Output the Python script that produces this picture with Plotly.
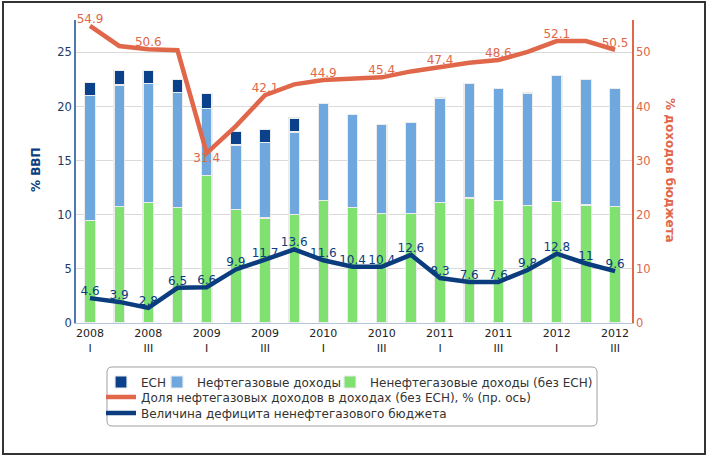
import plotly.graph_objects as go

quarters = ["2008<br>I", "", "2008<br>III", "", "2009<br>I", "", "2009<br>III", "",
            "2010<br>I", "", "2010<br>III", "", "2011<br>I", "", "2011<br>III", "",
            "2012<br>I", "", "2012<br>III"]
non_oil = [9.5, 10.8, 11.1, 10.7, 13.6, 10.5, 9.7, 10.05, 11.3, 10.7, 10.15, 10.15,
           11.1, 11.55, 11.3, 10.86, 11.2, 10.9, 10.8]
oil = [11.5, 11.2, 11.0, 10.6, 6.2, 5.95, 7.0, 7.6, 8.95, 8.55, 8.2, 8.4,
       9.7, 10.55, 10.4, 10.4, 11.7, 11.6, 10.9]
esn = [1.2, 1.3, 1.2, 1.2, 1.4, 1.25, 1.2, 1.3, 0, 0, 0, 0, 0, 0, 0, 0, 0, 0, 0]
oil_share = [54.9, 51.2, 50.6, 50.4, 31.4, 36.4, 42.1, 44.1, 44.9, 45.2, 45.4, 46.5,
             47.4, 48.1, 48.6, 50.1, 52.1, 52.1, 50.5]
deficit = [4.6, 3.9, 2.8, 6.5, 6.6, 9.9, 11.7, 13.6, 11.6, 10.4, 10.4, 12.6,
           8.3, 7.6, 7.6, 9.8, 12.8, 11, 9.6]

x = list(range(len(quarters)))
font = "DejaVu Sans"
C_GREEN = "#80E070"
C_BLUE = "#6FA8DF"
C_ESN = "#0B418A"
C_ORANGE = "#E0674A"
C_NAVY = "#0B3D7E"

W, H = 708, 458
L, R, T, B = 76, 76, 20, 135
PW, PH = W - L - R, H - T - B


def px_x(v):
    return (v - L) / PW


def px_y(v):
    return (H - B - v) / PH


fig = go.Figure()
bar_line = dict(color="#ECECEC", width=1.2)
fig.add_trace(go.Bar(x=x, y=non_oil, name="Ненефтегазовые доходы (без ЕСН)",
                     marker=dict(color=C_GREEN, line=bar_line), width=0.36, legend="legend3"))
fig.add_trace(go.Bar(x=x, y=oil, name="Нефтегазовые доходы",
                     marker=dict(color=C_BLUE, line=bar_line), width=0.36, legend="legend2"))
fig.add_trace(go.Bar(x=x, y=esn, name="ЕСН",
                     marker=dict(color=C_ESN, line=bar_line), width=0.36, legend="legend"))

share_text = [f"{v:g}" if i % 2 == 0 else "" for i, v in enumerate(oil_share)]
share_pos = ["bottom center" if v == min(oil_share) else "top center" for v in oil_share]
fig.add_trace(go.Scatter(x=x, y=oil_share, yaxis="y2", mode="lines+text",
                         name="Доля нефтегазовых доходов в доходах (без ЕСН), % (пр. ось)",
                         line=dict(color=C_ORANGE, width=4.5), cliponaxis=False,
                         text=share_text, textposition=share_pos,
                         textfont=dict(color=C_ORANGE, size=12, family=font),
                         legend="legend4"))
fig.add_trace(go.Scatter(x=x, y=deficit, yaxis="y2", mode="lines+text",
                         name="Величина дефицита ненефтегазового бюджета",
                         line=dict(color=C_NAVY, width=4.5), cliponaxis=False,
                         text=[f"{v:g}" for v in deficit], textposition="top center",
                         textfont=dict(color=C_NAVY, size=12, family=font),
                         legend="legend5"))


def leg(text_x, row_y):
    return dict(orientation="h", x=px_x(text_x - 40), xanchor="left",
                y=px_y(row_y), yanchor="middle", borderwidth=0,
                bgcolor="rgba(0,0,0,0)",
                font=dict(size=12, color="#333333", family=font))


# rounded legend frame
x0, x1 = px_x(107), px_x(597)
y0, y1 = px_y(426), px_y(367)
rx, ry = 5 / PW, 5 / PH
frame_path = (f"M {x0+rx},{y0} L {x1-rx},{y0} Q {x1},{y0} {x1},{y0+ry} "
              f"L {x1},{y1-ry} Q {x1},{y1} {x1-rx},{y1} L {x0+rx},{y1} "
              f"Q {x0},{y1} {x0},{y1-ry} L {x0},{y0+ry} Q {x0},{y0} {x0+rx},{y0} Z")

fig.update_layout(
    width=W, height=H,
    margin=dict(l=L, r=R, t=T, b=B, autoexpand=False),
    paper_bgcolor="white", plot_bgcolor="white",
    barmode="stack",
    font=dict(family=font, size=11, color="#222222"),
    showlegend=True,
    legend=leg(141, 382),
    legend2=leg(197, 382),
    legend3=leg(370, 382),
    legend4=leg(141, 397),
    legend5=leg(141, 413),
    xaxis=dict(range=[-0.48, 18.58], tickmode="array",
               tickvals=[i for i in x if quarters[i]],
               ticktext=[q for q in quarters if q],
               showgrid=False, zeroline=False, showline=True, linecolor="#B8C8DC",
               linewidth=1, ticks="", tickfont=dict(size=11, color="#222222")),
    yaxis=dict(range=[0, 28], dtick=5, showgrid=True, gridcolor="#DADADA", gridwidth=1,
               zeroline=False, showline=True, linecolor="#4F78AE", linewidth=1.5,
               tickfont=dict(size=11.5, color="#223B66"), ticks=""),
    yaxis2=dict(range=[0, 56], dtick=10, overlaying="y", side="right", showgrid=False,
                zeroline=False, showline=True, linecolor=C_ORANGE, linewidth=1.5,
                tickfont=dict(size=11.5, color=C_ORANGE), ticks=""),
    annotations=[
        dict(text="<b>% ВВП</b>", xref="paper", yref="paper", x=px_x(36), y=px_y(170),
             xanchor="center", yanchor="middle",
             textangle=-90, showarrow=False, font=dict(size=12, color="#0B3D7E", family=font)),
        dict(text="<b>% доходов бюджета</b>", xref="paper", yref="paper", x=px_x(670), y=px_y(170),
             xanchor="center", yanchor="middle",
             textangle=90, showarrow=False, font=dict(size=12, color=C_ORANGE, family=font)),
    ],
    shapes=[
        dict(type="rect", xref="paper", yref="paper",
             x0=px_x(3), x1=px_x(705), y0=px_y(454), y1=px_y(2),
             line=dict(color="#333333", width=2), fillcolor="rgba(0,0,0,0)", layer="below"),
        dict(type="path", xref="paper", yref="paper", path=frame_path,
             line=dict(color="#A0A0A0", width=1), fillcolor="rgba(0,0,0,0)", layer="below"),
    ],
)

fig.write_html("out.html", config={"displayModeBar": False},
               post_script="document.body.style.margin='0';document.body.style.overflow='hidden';")
